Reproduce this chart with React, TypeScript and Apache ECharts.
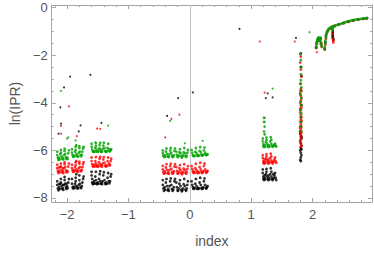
import React, { useEffect, useRef } from "react";
import * as echarts from "echarts";

type P = [number, number];

// ---- axis setup ----
const xRange: P = [-2.25, 2.97];
const yRange: P = [-8.17, 0.115];
const xLabel = "index";
const yLabel = "ln(IPR)";
const zeroLine = [0];

// ---- black series ----
const blackB1: P[] = [[-2.16,-7.3],[-2.16,-7.45],[-2.15,-7.6],[-2.14,-7.68],[-2.13,-7.55],[-2.12,-7.62],[-2.11,-7.4],[-2.10,-7.2],[-2.10,-7.35],[-2.09,-7.5],[-2.08,-7.62],[-2.07,-7.58],[-2.06,-7.66],[-2.05,-7.45],[-2.04,-7.25],[-2.04,-7.12],[-2.03,-7.4],[-2.02,-7.55],[-2.01,-7.62],[-2.00,-7.5],[-1.99,-7.58],[-1.98,-7.35],[-1.97,-7.2],[-2.13,-7.42],[-2.07,-7.45],[-2.01,-7.4]];
const blackB2: P[] = [[-1.92,-7.2],[-1.92,-7.4],[-1.91,-7.55],[-1.90,-7.6],[-1.89,-7.52],[-1.88,-7.58],[-1.87,-7.4],[-1.86,-7.15],[-1.86,-7.3],[-1.85,-7.0],[-1.85,-7.5],[-1.84,-7.58],[-1.83,-7.55],[-1.82,-7.6],[-1.81,-7.45],[-1.80,-7.25],[-1.80,-7.05],[-1.79,-7.4],[-1.78,-7.55],[-1.77,-7.58],[-1.76,-7.5],[-1.75,-7.35],[-1.74,-7.2],[-1.73,-7.1]];
const blackB3: P[] = [[-1.60,-6.9],[-1.60,-7.05],[-1.59,-7.2],[-1.59,-7.35],[-1.58,-7.42],[-1.57,-7.38],[-1.56,-7.3],[-1.55,-7.4],[-1.54,-7.1],[-1.53,-6.9],[-1.53,-7.25],[-1.52,-7.38],[-1.51,-7.42],[-1.50,-7.35],[-1.49,-7.4],[-1.48,-7.2],[-1.47,-7.0],[-1.46,-6.88],[-1.46,-7.3],[-1.45,-7.4],[-1.44,-7.36],[-1.43,-7.42],[-1.42,-7.3],[-1.41,-7.05],[-1.40,-6.92],[-1.39,-7.25],[-1.38,-7.38],[-1.37,-7.42],[-1.36,-7.35],[-1.35,-7.4],[-1.34,-7.15],[-1.33,-6.95],[-1.32,-7.3],[-1.31,-7.38],[-1.30,-7.3],[-1.29,-7.1],[-1.28,-7.0]];
const blackB4: P[] = [[-0.44,-7.25],[-0.44,-7.45],[-0.43,-7.6],[-0.42,-7.7],[-0.41,-7.55],[-0.40,-7.65],[-0.39,-7.35],[-0.38,-7.2],[-0.37,-7.5],[-0.36,-7.68],[-0.35,-7.62],[-0.34,-7.7],[-0.33,-7.5],[-0.32,-7.3],[-0.31,-7.18],[-0.30,-7.45],[-0.29,-7.62],[-0.28,-7.7],[-0.27,-7.66],[-0.26,-7.55],[-0.25,-7.3],[-0.24,-7.2],[-0.22,-7.35],[-0.21,-7.55],[-0.20,-7.68],[-0.19,-7.7],[-0.18,-7.6],[-0.17,-7.4],[-0.16,-7.25],[-0.15,-7.5],[-0.14,-7.65],[-0.13,-7.72],[-0.12,-7.68],[-0.11,-7.6],[-0.10,-7.42],[-0.09,-7.2],[-0.08,-7.5],[-0.07,-7.65],[-0.06,-7.7],[-0.05,-7.6],[-0.04,-7.45],[-0.03,-7.3],[0.03,-7.3],[0.04,-7.45],[0.05,-7.55],[0.06,-7.62],[0.07,-7.58],[0.08,-7.6],[0.09,-7.4],[0.10,-7.2],[0.11,-7.5],[0.12,-7.6],[0.13,-7.62],[0.14,-7.58],[0.15,-7.6],[0.16,-7.35],[0.17,-7.15],[0.18,-7.45],[0.19,-7.58],[0.20,-7.62],[0.21,-7.6],[0.22,-7.55],[0.23,-7.3],[0.24,-7.18],[0.25,-7.45],[0.26,-7.58],[0.27,-7.6],[0.28,-7.55],[0.29,-7.5]];
const blackB7: P[] = [[1.19,-6.8],[1.19,-6.95],[1.20,-7.1],[1.20,-7.2],[1.21,-7.25],[1.22,-7.15],[1.23,-7.22],[1.24,-7.0],[1.25,-6.78],[1.25,-6.9],[1.26,-7.1],[1.27,-7.2],[1.28,-7.25],[1.29,-7.15],[1.30,-7.22],[1.31,-7.0],[1.32,-6.75],[1.33,-6.9],[1.33,-7.1],[1.34,-7.2],[1.35,-7.25],[1.36,-7.2],[1.37,-7.15],[1.38,-7.05],[1.39,-6.95],[1.40,-7.15],[1.41,-7.25],[1.22,-7.05],[1.28,-7.05],[1.36,-7.0]];
const blackStreak: P[] = [[1.81,-1.92],[1.81,-2.49],[1.82,-2.86],[1.81,-3.48],[1.82,-4.1],[1.81,-4.6],[1.81,-5.0],[1.80,-5.2],[1.80,-5.3],[1.81,-5.4],[1.82,-5.45],[1.82,-5.5],[1.80,-5.6],[1.81,-5.7],[1.82,-5.8],[1.81,-5.9],[1.82,-5.95],[1.80,-6.0],[1.81,-6.1],[1.82,-6.2],[1.81,-6.3],[1.80,-6.4],[1.81,-6.45]];
const blackCurve: P[] = [[2.06,-1.66],[2.07,-1.48],[2.09,-1.32],[2.11,-1.38],[2.13,-1.28],[2.14,-1.5],[2.20,-1.72],[2.21,-1.45],[2.22,-1.2],[2.24,-1.02],[2.27,-0.9],[2.31,-0.82],[2.36,-0.77],[2.42,-0.71],[2.50,-0.65],[2.58,-0.59],[2.66,-0.54],[2.74,-0.5],[2.82,-0.47],[2.88,-0.45],[2.33,-0.92],[2.33,-1.0],[2.33,-1.06],[2.33,-1.12],[2.33,-1.18],[2.33,-1.24],[2.34,-1.3],[2.34,-1.36]];
const blackOutliers: P[] = [[-1.95,-2.9],[-1.62,-2.82],[-2.05,-3.35],[-2.11,-4.19],[-0.19,-3.8],[0.05,-3.56],[-0.37,-4.55],[-2.10,-4.87],[-1.78,-4.95],[-1.81,-5.2],[-1.44,-4.84],[-2.14,-5.3],[0.81,-0.89],[1.73,-1.27],[1.27,-3.6],[1.24,-3.8],[1.35,-3.77]];

// ---- red series ----
const redB1: P[] = [[-2.16,-6.6],[-2.16,-6.75],[-2.15,-6.88],[-2.14,-6.95],[-2.13,-6.85],[-2.12,-6.92],[-2.11,-6.7],[-2.10,-6.55],[-2.10,-6.68],[-2.09,-6.82],[-2.08,-6.92],[-2.07,-6.88],[-2.06,-6.95],[-2.05,-6.75],[-2.04,-6.58],[-2.04,-6.5],[-2.03,-6.7],[-2.02,-6.85],[-2.01,-6.92],[-2.00,-6.85],[-1.99,-6.9],[-1.98,-6.68],[-1.97,-6.55],[-2.13,-6.72],[-2.07,-6.75]];
const redB2: P[] = [[-1.92,-6.6],[-1.92,-6.75],[-1.91,-6.85],[-1.90,-6.9],[-1.89,-6.82],[-1.88,-6.88],[-1.87,-6.7],[-1.86,-6.5],[-1.86,-6.62],[-1.85,-6.45],[-1.85,-6.8],[-1.84,-6.88],[-1.83,-6.85],[-1.82,-6.9],[-1.81,-6.75],[-1.80,-6.55],[-1.80,-6.48],[-1.79,-6.7],[-1.78,-6.85],[-1.77,-6.88],[-1.76,-6.82],[-1.75,-6.7],[-1.74,-6.58],[-1.73,-6.5]];
const redB3: P[] = [[-1.60,-6.3],[-1.60,-6.45],[-1.59,-6.58],[-1.58,-6.68],[-1.57,-6.65],[-1.56,-6.6],[-1.55,-6.68],[-1.54,-6.45],[-1.53,-6.28],[-1.53,-6.55],[-1.52,-6.65],[-1.51,-6.68],[-1.50,-6.62],[-1.49,-6.68],[-1.48,-6.5],[-1.47,-6.35],[-1.46,-6.27],[-1.46,-6.58],[-1.45,-6.66],[-1.44,-6.62],[-1.43,-6.68],[-1.42,-6.55],[-1.41,-6.38],[-1.40,-6.28],[-1.39,-6.52],[-1.38,-6.64],[-1.37,-6.68],[-1.36,-6.62],[-1.35,-6.66],[-1.34,-6.45],[-1.33,-6.3],[-1.32,-6.55],[-1.31,-6.64],[-1.30,-6.6],[-1.29,-6.45],[-1.28,-6.35]];
const redB4: P[] = [[-0.44,-6.65],[-0.44,-6.8],[-0.43,-6.92],[-0.42,-6.98],[-0.41,-6.88],[-0.40,-6.95],[-0.39,-6.72],[-0.38,-6.58],[-0.37,-6.82],[-0.36,-6.96],[-0.35,-6.92],[-0.34,-6.98],[-0.33,-6.82],[-0.32,-6.66],[-0.31,-6.56],[-0.30,-6.78],[-0.29,-6.92],[-0.28,-6.98],[-0.27,-6.95],[-0.26,-6.88],[-0.25,-6.68],[-0.24,-6.58],[-0.22,-6.7],[-0.21,-6.86],[-0.20,-6.96],[-0.19,-6.98],[-0.18,-6.9],[-0.17,-6.75],[-0.16,-6.62],[-0.15,-6.82],[-0.14,-6.94],[-0.13,-7.0],[-0.12,-6.96],[-0.11,-6.9],[-0.10,-6.76],[-0.09,-6.58],[-0.08,-6.82],[-0.07,-6.94],[-0.06,-6.98],[-0.05,-6.9],[-0.04,-6.78],[-0.03,-6.66],[0.03,-6.66],[0.04,-6.78],[0.05,-6.88],[0.06,-6.94],[0.07,-6.9],[0.08,-6.94],[0.09,-6.75],[0.10,-6.56],[0.11,-6.82],[0.12,-6.92],[0.13,-6.95],[0.14,-6.9],[0.15,-6.94],[0.16,-6.7],[0.17,-6.52],[0.18,-6.8],[0.19,-6.9],[0.20,-6.95],[0.21,-6.92],[0.22,-6.88],[0.23,-6.66],[0.24,-6.55],[0.25,-6.8],[0.26,-6.9],[0.27,-6.94],[0.28,-6.9],[0.29,-6.86]];
const redB7: P[] = [[1.19,-6.2],[1.19,-6.32],[1.20,-6.45],[1.20,-6.52],[1.21,-6.55],[1.22,-6.48],[1.23,-6.53],[1.24,-6.35],[1.25,-6.16],[1.25,-6.26],[1.26,-6.42],[1.27,-6.5],[1.28,-6.55],[1.29,-6.46],[1.30,-6.52],[1.31,-6.32],[1.32,-6.14],[1.33,-6.25],[1.33,-6.42],[1.34,-6.5],[1.35,-6.55],[1.36,-6.5],[1.37,-6.46],[1.38,-6.38],[1.39,-6.3],[1.40,-6.45],[1.41,-6.52],[1.22,-6.38],[1.28,-6.38]];
const redStreak: P[] = [[1.81,-2.05],[1.80,-2.3],[1.81,-2.6],[1.82,-2.9],[1.81,-3.2],[1.81,-3.4],[1.82,-3.5],[1.80,-3.6],[1.81,-3.7],[1.82,-3.8],[1.81,-3.9],[1.80,-4.0],[1.81,-4.1],[1.82,-4.2],[1.80,-4.25],[1.81,-4.3],[1.80,-4.4],[1.81,-4.5],[1.82,-4.6],[1.81,-4.7],[1.82,-4.75],[1.80,-4.8],[1.81,-4.9],[1.82,-5.0],[1.80,-5.05],[1.81,-5.1],[1.80,-5.2],[1.82,-5.25],[1.81,-5.3],[1.82,-5.4],[1.81,-5.5],[1.80,-5.6],[1.81,-5.7],[1.82,-5.8],[1.81,-5.85]];
const redCurve: P[] = [[2.06,-1.7],[2.07,-1.52],[2.08,-1.38],[2.10,-1.28],[2.12,-1.36],[2.13,-1.3],[2.14,-1.52],[2.15,-1.64],[2.20,-1.76],[2.21,-1.55],[2.22,-1.3],[2.23,-1.1],[2.25,-0.97],[2.28,-0.88],[2.32,-0.81],[2.37,-0.76],[2.44,-0.7],[2.52,-0.64],[2.60,-0.58],[2.68,-0.53],[2.76,-0.49],[2.84,-0.46],[2.89,-0.44],[2.33,-1.1],[2.33,-1.3],[2.34,-1.38],[2.34,-1.46]];
const redOutliers: P[] = [[-1.97,-4.15],[-0.17,-4.5],[-0.30,-4.67],[-2.10,-4.97],[1.14,-1.42],[1.71,-1.42],[1.22,-3.57],[-0.40,-5.45],[-1.84,-5.4],[-1.51,-5.08],[-1.46,-5.1],[-2.10,-5.3],[2.07,-1.87]];

// ---- green series ----
const greenB1: P[] = [[-2.16,-6.05],[-2.16,-6.2],[-2.15,-6.32],[-2.14,-6.4],[-2.13,-6.3],[-2.12,-6.38],[-2.11,-6.15],[-2.10,-5.98],[-2.10,-6.1],[-2.09,-6.25],[-2.08,-6.35],[-2.07,-6.32],[-2.06,-6.38],[-2.05,-6.2],[-2.04,-6.02],[-2.04,-5.93],[-2.03,-6.15],[-2.02,-6.3],[-2.01,-6.36],[-2.00,-6.3],[-1.99,-6.35],[-1.98,-6.12],[-1.97,-6.0]];
const greenB2: P[] = [[-1.92,-5.95],[-1.92,-6.1],[-1.91,-6.2],[-1.90,-6.27],[-1.89,-6.22],[-1.88,-6.25],[-1.87,-6.05],[-1.86,-5.85],[-1.86,-5.98],[-1.85,-5.78],[-1.85,-6.15],[-1.84,-6.24],[-1.83,-6.22],[-1.82,-6.27],[-1.81,-6.1],[-1.80,-5.9],[-1.80,-5.82],[-1.79,-6.05],[-1.78,-6.2],[-1.77,-6.25],[-1.76,-6.18],[-1.75,-6.05],[-1.74,-5.92],[-1.73,-5.85]];
const greenB3: P[] = [[-1.60,-5.72],[-1.60,-5.85],[-1.59,-5.96],[-1.58,-6.04],[-1.57,-6.06],[-1.56,-6.04],[-1.55,-6.06],[-1.54,-5.9],[-1.53,-5.7],[-1.53,-5.82],[-1.52,-5.98],[-1.51,-6.05],[-1.50,-6.06],[-1.49,-6.04],[-1.48,-5.92],[-1.47,-5.78],[-1.46,-5.68],[-1.46,-5.95],[-1.45,-6.04],[-1.44,-6.06],[-1.43,-6.05],[-1.42,-5.94],[-1.41,-5.8],[-1.40,-5.68],[-1.39,-5.9],[-1.38,-6.02],[-1.37,-6.06],[-1.36,-6.05],[-1.35,-6.04],[-1.34,-5.9],[-1.33,-5.72],[-1.32,-5.95],[-1.31,-6.04],[-1.30,-6.03],[-1.29,-5.98],[-1.28,-5.95]];
const greenB4: P[] = [[-0.44,-6.0],[-0.44,-6.12],[-0.43,-6.22],[-0.42,-6.28],[-0.41,-6.2],[-0.40,-6.26],[-0.39,-6.05],[-0.38,-5.92],[-0.37,-6.15],[-0.36,-6.26],[-0.35,-6.24],[-0.34,-6.28],[-0.33,-6.15],[-0.32,-6.0],[-0.31,-5.9],[-0.30,-6.1],[-0.29,-6.22],[-0.28,-6.28],[-0.27,-6.26],[-0.26,-6.2],[-0.25,-6.02],[-0.24,-5.92],[-0.22,-6.05],[-0.21,-6.18],[-0.20,-6.26],[-0.19,-6.28],[-0.18,-6.22],[-0.17,-6.08],[-0.16,-5.95],[-0.15,-6.12],[-0.14,-6.24],[-0.13,-6.3],[-0.12,-6.26],[-0.11,-6.2],[-0.10,-6.08],[-0.09,-5.9],[-0.08,-6.12],[-0.07,-6.24],[-0.06,-6.28],[-0.05,-6.22],[-0.04,-6.1],[-0.03,-5.98],[0.03,-5.98],[0.04,-6.1],[0.05,-6.2],[0.06,-6.24],[0.07,-6.22],[0.08,-6.24],[0.09,-6.06],[0.10,-5.9],[0.11,-6.12],[0.12,-6.2],[0.13,-6.24],[0.14,-6.2],[0.15,-6.22],[0.16,-6.02],[0.17,-5.86],[0.18,-6.08],[0.19,-6.18],[0.20,-6.22],[0.21,-6.2],[0.22,-6.18],[0.23,-6.0],[0.24,-5.88],[0.25,-6.1],[0.26,-6.18],[0.27,-6.2],[0.28,-6.18],[0.29,-6.16]];
const greenB7: P[] = [[1.19,-5.5],[1.19,-5.62],[1.20,-5.74],[1.20,-5.82],[1.21,-5.86],[1.22,-5.78],[1.23,-5.84],[1.24,-5.65],[1.25,-5.46],[1.25,-5.56],[1.26,-5.72],[1.27,-5.8],[1.28,-5.86],[1.29,-5.78],[1.30,-5.84],[1.31,-5.62],[1.32,-5.45],[1.33,-5.55],[1.33,-5.72],[1.34,-5.8],[1.35,-5.85],[1.36,-5.82],[1.37,-5.8],[1.38,-5.76],[1.39,-5.72],[1.40,-5.8],[1.41,-5.84],[1.21,-4.63],[1.21,-4.8],[1.22,-5.0],[1.21,-5.2],[1.22,-5.32]];
const greenStreak: P[] = [[1.80,-1.95],[1.81,-2.2],[1.82,-2.5],[1.81,-2.8],[1.81,-3.05],[1.80,-3.2],[1.82,-3.35],[1.81,-3.5],[1.80,-3.65],[1.82,-3.8],[1.81,-3.95],[1.82,-4.1],[1.80,-4.3],[1.82,-4.45],[1.81,-4.6],[1.82,-4.8],[1.80,-5.0],[1.82,-5.2]];
const greenCurve: P[] = [[2.06,-1.68],[2.06,-1.6],[2.07,-1.5],[2.07,-1.42],[2.08,-1.35],[2.09,-1.28],[2.10,-1.25],[2.10,-1.33],[2.11,-1.4],[2.11,-1.35],[2.12,-1.28],[2.13,-1.26],[2.13,-1.35],[2.14,-1.45],[2.14,-1.55],[2.15,-1.62],[2.20,-1.75],[2.20,-1.65],[2.21,-1.5],[2.21,-1.38],[2.22,-1.25],[2.22,-1.15],[2.23,-1.07],[2.24,-1.0],[2.25,-0.95],[2.26,-0.9],[2.28,-0.86],[2.30,-0.82],[2.32,-0.8],[2.34,-0.78],[2.36,-0.76],[2.39,-0.73],[2.42,-0.7],[2.45,-0.68],[2.48,-0.66],[2.51,-0.63],[2.54,-0.6],[2.57,-0.58],[2.60,-0.56],[2.63,-0.54],[2.66,-0.52],[2.69,-0.5],[2.72,-0.49],[2.75,-0.48],[2.78,-0.47],[2.81,-0.46],[2.84,-0.45],[2.87,-0.44],[2.89,-0.43],[2.33,-0.88],[2.33,-0.95]];
const greenOutliers: P[] = [[-2.10,-3.5],[-0.32,-4.76],[-1.33,-4.96],[1.95,-1.03],[1.35,-3.4],[1.22,-4.63],[1.22,-4.8],[-0.08,-5.7],[0.21,-5.6],[-1.98,-5.45],[-1.86,-5.58],[-1.54,-5.66],[-2.0,-5.5]];

const blackMain = [...blackB1, ...blackB2, ...blackB3, ...blackB4, ...blackB7, ...blackStreak, ...blackCurve];
const redMain = [...redB1, ...redB2, ...redB3, ...redB4, ...redB7, ...redStreak, ...redCurve];
const greenMain = [...greenB1, ...greenB2, ...greenB3, ...greenB4, ...greenB7, ...greenStreak, ...greenCurve];

const FONT = "'Liberation Sans', Arial, sans-serif";
const FRAME = "#a6a6a6";
const TEXT = "#555555";
const fmt = (v: number) => String(v).replace("-", "\u2212");

function axisCommon(labels: boolean) {
  return {
    type: "value" as const,
    axisLine: { show: true, onZero: false, lineStyle: { color: FRAME, width: 1 } },
    axisTick: { show: true, inside: true, length: 4, lineStyle: { color: FRAME } },
    minorTick: { show: true, length: 2, lineStyle: { color: FRAME } },
    splitLine: { show: false },
    minorSplitLine: { show: false },
    axisLabel: {
      show: labels,
      showMinLabel: false,
      showMaxLabel: false,
      formatter: fmt,
      color: TEXT,
      fontSize: 13,
      fontFamily: FONT,
    },
  };
}

export default function App() {
  const ref = useRef<HTMLDivElement>(null);
  useEffect(() => {
    if (!ref.current) return;
    const chart = echarts.init(ref.current, null, { renderer: "svg" });
    const xBase = (labels: boolean, pos: "bottom" | "top") => {
      const c = axisCommon(labels);
      return {
        ...c,
        position: pos,
        min: xRange[0],
        max: xRange[1],
        minInterval: 1,
        maxInterval: 1,
        minorTick: { ...c.minorTick, splitNumber: 5 },
        axisLabel: { ...c.axisLabel, margin: 6 },
      };
    };
    const yBase = (labels: boolean, pos: "left" | "right") => {
      const c = axisCommon(labels);
      return {
        ...c,
        position: pos,
        min: yRange[0],
        max: yRange[1],
        minInterval: 2,
        maxInterval: 2,
        minorTick: { ...c.minorTick, splitNumber: 4 },
        axisLabel: { ...c.axisLabel, margin: 4 },
      };
    };
    const scatter = (name: string, main: P[], outliers: P[], color: string, z: number, extra: any = {}) => ({
      type: "scatter",
      name,
      data: [...main, ...outliers],
      xAxisIndex: 0,
      yAxisIndex: 0,
      symbol: "circle",
      symbolSize: (_v: any, p: any) => (p.dataIndex < main.length ? 2.8 : 2),
      itemStyle: { color },
      z,
      ...extra,
    });
    chart.setOption({
      animation: false,
      backgroundColor: "#ffffff",
      grid: { left: 44, right: 2, top: 5, bottom: 47, containLabel: false },
      xAxis: [
        {
          ...xBase(true, "bottom"),
          name: xLabel,
          nameLocation: "middle",
          nameGap: 32,
          nameTextStyle: { color: TEXT, fontSize: 14, fontFamily: FONT },
        },
        xBase(false, "top"),
      ],
      yAxis: [
        {
          ...yBase(true, "left"),
          name: yLabel,
          nameLocation: "middle",
          nameGap: 27,
          nameTextStyle: { color: TEXT, fontSize: 14, fontFamily: FONT },
        },
        yBase(false, "right"),
      ],
      series: [
        scatter("black", blackMain, blackOutliers, "#000000", 2, {
          markLine: {
            silent: true,
            symbol: ["none", "none"],
            label: { show: false },
            lineStyle: { color: "#c4c4c4", width: 1, type: "solid" },
            data: zeroLine.map((v) => ({ xAxis: v })),
            z: 1,
          },
        }),
        scatter("red", redMain, redOutliers, "#ff0000", 3),
        scatter("green", greenMain, greenOutliers, "#00a000", 4),
      ],
    });
    return () => chart.dispose();
  }, []);
  return (
    <div
      ref={ref}
      style={{ position: "fixed", left: 0, top: 0, width: 374, height: 253, background: "#fff" }}
    />
  );
}
